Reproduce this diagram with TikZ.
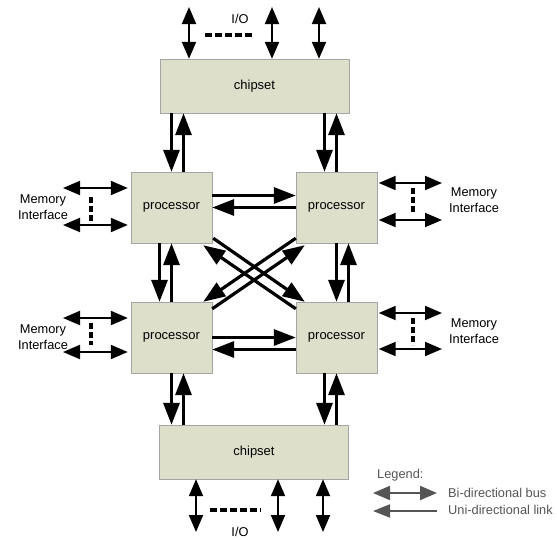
\documentclass[tikz,border=0pt]{standalone}
\usepackage{fontspec}
\setmainfont{Liberation Sans}
\usetikzlibrary{arrows.meta, calc}
\definecolor{boxfill}{RGB}{221,223,203}
\definecolor{boxline}{RGB}{165,165,165}
\definecolor{legendgray}{RGB}{85,85,85}
\tikzstyle{chip} = [rectangle, minimum width=189pt, minimum height=54pt, inner sep=0pt, text centered, draw=boxline, fill=boxfill, font=\fontsize{13}{15}\selectfont]
\tikzstyle{proc} = [rectangle, minimum width=81pt, minimum height=71pt, inner sep=0pt, text centered, draw=boxline, fill=boxfill, font=\fontsize{13}{15}\selectfont]
\tikzstyle{label} = [align=center, inner sep=0pt, font=\fontsize{12.8}{15.5}\selectfont]
\tikzstyle{link} = [line width=3.2pt, -{Triangle[length=22pt,width=16pt]}]
\tikzstyle{bus} = [line width=2pt, {Triangle[length=17pt,width=14pt]}-{Triangle[length=17pt,width=14pt]}]
\tikzstyle{dotrow} = [line width=4pt, dash pattern=on 7pt off 3pt]
\tikzstyle{dotcol} = [line width=4.5pt, dash pattern=on 6pt off 3pt]

\begin{document}
\begin{tikzpicture}[x=1pt, y=-1pt]
	\useasboundingbox (0,0) rectangle (557,539);
	
	\node (chipT) [chip] at (254.5,86) {chipset};
	\node (pTL) [proc] at (171.5,207.5) {processor};
	\node (pTR) [proc] at (336.5,207.5) {processor};
	\node (pBL) [proc] at (171.5,337.5) {processor};
	\node (pBR) [proc] at (336.5,337.5) {processor};
	\node (chipB) [chip] at (254,452) {chipset};
	
	% I/O
	\coordinate (io1) at (189,7);
	\coordinate (io2) at (272,7);
	\coordinate (io3) at (319,7);
	\coordinate (io4) at (196,532);
	\coordinate (io5) at (278,532);
	\coordinate (io6) at (323,532);
	\node (ioT) [label] at (240,19) {I/O};
	\node (ioB) [label] at (240,532) {I/O};
	\draw [bus] (io1 |- chipT.north) -- (io1);
	\draw [bus] (io2 |- chipT.north) -- (io2);
	\draw [bus] (io3 |- chipT.north) -- (io3);
	\draw [bus] (io4 |- chipB.south) -- (io4);
	\draw [bus] (io5 |- chipB.south) -- (io5);
	\draw [bus] (io6 |- chipB.south) -- (io6);
	\draw [dotrow] (205,35) -- (255,35);
	\draw [dotrow] (210,510) -- (261,510);
	
	% memory interfaces
	\coordinate (mem1) at (63,188);
	\coordinate (mem2) at (63,225);
	\coordinate (mem3) at (63,318);
	\coordinate (mem4) at (63,352);
	\coordinate (mem5) at (442,183);
	\coordinate (mem6) at (442,220);
	\coordinate (mem7) at (442,313);
	\coordinate (mem8) at (442,349);
	\draw [bus, shorten >=3pt] (mem1) -- (mem1 -| pTL.west);
	\draw [bus, shorten >=3pt] (mem2) -- (mem2 -| pTL.west);
	\draw [bus, shorten >=3pt] (mem3) -- (mem3 -| pBL.west);
	\draw [bus, shorten >=3pt] (mem4) -- (mem4 -| pBL.west);
	\draw [bus, shorten >=1.5pt] (mem5) -- (mem5 -| pTR.east);
	\draw [bus, shorten >=1.5pt] (mem6) -- (mem6 -| pTR.east);
	\draw [bus, shorten >=1.5pt] (mem7) -- (mem7 -| pBR.east);
	\draw [bus, shorten >=1.5pt] (mem8) -- (mem8 -| pBR.east);
	\draw [dotcol] (91,197) -- (91,222);
	\draw [dotcol] (91,323) -- (91,345);
	\draw [dotcol] (413,188) -- (413,215);
	\draw [dotcol] (413,318) -- (413,345);
	\node (memTL) [label] at (43,207) {Memory\\Interface};
	\node (memBL) [label] at (43,337) {Memory\\Interface};
	\node (memTR) [label] at (474,200) {Memory\\Interface};
	\node (memBR) [label] at (474,331) {Memory\\Interface};
	
	% chipset links
	\draw [link] (pTL.north |- chipT.south) -- (pTL.north);
	\draw [link] ($(pTL.north)+(12,0)$) -- ($(pTL.north |- chipT.south)+(12,0)$);
	\draw [link] ($(pTR.north |- chipT.south)+(-12,0)$) -- ($(pTR.north)+(-12,0)$);
	\draw [link] (pTR.north) -- (pTR.north |- chipT.south);
	\draw [link] (pBL.south) -- (pBL.south |- chipB.north);
	\draw [link] ($(pBL.south |- chipB.north)+(12,0)$) -- ($(pBL.south)+(12,0)$);
	\draw [link] ($(pBR.south)+(-12,0)$) -- ($(pBR.south |- chipB.north)+(-12,0)$);
	\draw [link] (pBR.south |- chipB.north) -- (pBR.south);
	
	% processor links
	\draw [link] ($(pTL.east)+(0,-12)$) -- ($(pTR.west)+(0,-12)$);
	\draw [link] (pTR.west) -- (pTL.east);
	\draw [link] (pBL.east) -- (pBR.west);
	\draw [link] ($(pBR.west)+(0,12)$) -- ($(pBL.east)+(0,12)$);
	\draw [link] ($(pTL.south)+(-12,0)$) -- ($(pBL.north)+(-12,0)$);
	\draw [link] (pBL.north) -- (pTL.south);
	\draw [link] (pTR.south) -- (pBR.north);
	\draw [link] ($(pBR.north)+(12,0)$) -- ($(pTR.south)+(12,0)$);
	\draw [link] ($(pTL.south east)+(1,-5)$) -- ($(pBR.north west)+(9,0)$);
	\draw [link] ($(pBR.north west)+(0,7)$) -- ($(pTL.south east)+(-9,2)$);
	\draw [link] ($(pTR.south west)+(0,-5)$) -- ($(pBL.north east)+(-9,0)$);
	\draw [link] ($(pBL.north east)+(0,7)$) -- ($(pTR.south west)+(9,2)$);
	
	% legend
	\coordinate (legA) at (373,493);
	\coordinate (legB) at (437,493);
	\coordinate (legC) at (437,511);
	\coordinate (legD) at (373,511);
	\node (legT) [label, anchor=west, text=legendgray] at (377,475) {Legend:};
	\draw [bus, draw=legendgray, fill=legendgray] (legA) -- (legB);
	\draw [link, line width=2pt, draw=legendgray, fill=legendgray, -{Triangle[length=17pt,width=13pt]}] (legC) -- (legD);
	\node (legBi) [label, anchor=west, text=legendgray] at (448,493) {Bi-directional bus};
	\node (legUni) [label, anchor=west, text=legendgray] at (448,510) {Uni-directional link};
	
\end{tikzpicture}
\end{document}
